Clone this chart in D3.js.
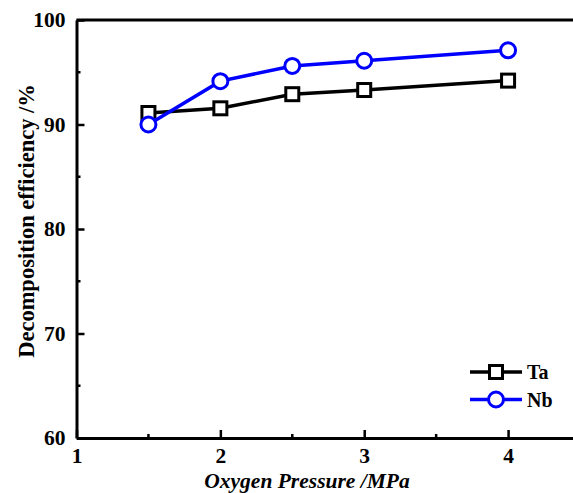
<!DOCTYPE html>
<html>
<head>
<meta charset="utf-8">
<style>
  body { margin: 0; background: #fff; }
</style>
</head>
<body>
<div id="graph"></div>
<script src="https://cdnjs.cloudflare.com/ajax/libs/d3/7.8.5/d3.min.js"></script>
<script>
// Data
var pressure = [1.5, 2, 2.5, 3, 4];
var ta = [91.1, 91.55, 92.9, 93.3, 94.2];
var nb = [90.0, 94.15, 95.6, 96.1, 97.1];
var xTicks = [1, 2, 3, 4];
var yTicks = [60, 70, 80, 90, 100];

var FONT = "'Liberation Serif', 'Times New Roman', serif";
var W = 573, H = 493;
var margin = { top: 20, right: -7, bottom: 55, left: 76.5 };
var width = W - margin.left - margin.right;
var height = H - margin.top - margin.bottom;

var svg = d3.select("#graph")
  .append("svg")
  .attr("width", W)
  .attr("height", H)
  .attr("font-family", FONT)
  .append("g")
  .attr("transform", "translate(" + margin.left + "," + margin.top + ")");

var xScale = d3.scaleLinear().domain([1, 4.5]).range([0, width]);
var yScale = d3.scaleLinear().domain([60, 100]).range([height, 0]);

// minor ticks
var xMinor = d3.range(1.5, 4.5, 1);
var yMinor = d3.range(65, 100, 10);

// x axis (bottom) - ticks pointing inward
var xAxis = svg.append("g")
  .attr("transform", "translate(0," + height + ")")
  .call(d3.axisBottom(xScale).tickValues(xTicks).tickFormat(d3.format("d"))
    .tickSizeInner(-8).tickSizeOuter(0).tickPadding(10));
xAxis.append("g").selectAll("line")
  .data(xMinor).enter().append("line")
  .attr("x1", function(d) { return xScale(d); })
  .attr("x2", function(d) { return xScale(d); })
  .attr("y1", 0).attr("y2", -4)
  .attr("stroke", "black").attr("stroke-width", 2.5);

// y axis (left)
var yAxis = svg.append("g")
  .call(d3.axisLeft(yScale).tickValues(yTicks)
    .tickSizeInner(-8).tickSizeOuter(0).tickPadding(11));
yAxis.append("g").selectAll("line")
  .data(yMinor).enter().append("line")
  .attr("y1", function(d) { return yScale(d); })
  .attr("y2", function(d) { return yScale(d); })
  .attr("x1", 0).attr("x2", 4)
  .attr("stroke", "black").attr("stroke-width", 2.5);

// top frame line
svg.append("line")
  .attr("x1", 0).attr("x2", width)
  .attr("y1", 0).attr("y2", 0)
  .attr("stroke", "black").attr("stroke-width", 3);

[xAxis, yAxis].forEach(function(a) {
  a.attr("font-family", FONT).attr("font-size", 21.5).attr("font-weight", "bold");
  a.select(".domain").attr("stroke-width", 3);
  a.selectAll(".tick line").attr("stroke-width", 2.5);
  a.selectAll(".tick text").attr("fill", "black");
});

var line = d3.line()
  .x(function(d, i) { return xScale(pressure[i]); })
  .y(function(d) { return yScale(d); });

// Ta series
svg.append("path")
  .datum(ta)
  .attr("fill", "none")
  .attr("stroke", "black")
  .attr("stroke-width", 3.5)
  .attr("d", line);
svg.selectAll(".ta-pt")
  .data(ta).enter().append("rect")
  .attr("class", "ta-pt")
  .attr("x", function(d, i) { return xScale(pressure[i]) - 6.5; })
  .attr("y", function(d) { return yScale(d) - 6.5; })
  .attr("width", 13).attr("height", 13)
  .attr("fill", "white").attr("stroke", "black").attr("stroke-width", 3);

// Nb series
svg.append("path")
  .datum(nb)
  .attr("fill", "none")
  .attr("stroke", "#0000ff")
  .attr("stroke-width", 3.5)
  .attr("d", line);
svg.selectAll(".nb-pt")
  .data(nb).enter().append("circle")
  .attr("class", "nb-pt")
  .attr("cx", function(d, i) { return xScale(pressure[i]); })
  .attr("cy", function(d) { return yScale(d); })
  .attr("r", 7.5)
  .attr("fill", "white").attr("stroke", "#0000ff").attr("stroke-width", 3);

// Legend
var legend = svg.append("g")
  .attr("transform", "translate(" + (470 - margin.left) + "," + (372 - margin.top) + ")")
  .attr("font-weight", "bold").attr("font-size", 20);
legend.append("line").attr("x1", 0).attr("x2", 52).attr("y1", 0).attr("y2", 0)
  .attr("stroke", "black").attr("stroke-width", 3.5);
legend.append("rect").attr("x", 26 - 6.5).attr("y", -6.5).attr("width", 13).attr("height", 13)
  .attr("fill", "white").attr("stroke", "black").attr("stroke-width", 3);
legend.append("text").attr("x", 57).attr("y", 7).text("Ta");
legend.append("line").attr("x1", 0).attr("x2", 52).attr("y1", 27.5).attr("y2", 27.5)
  .attr("stroke", "#0000ff").attr("stroke-width", 3.5);
legend.append("circle").attr("cx", 26).attr("cy", 27.5).attr("r", 7.5)
  .attr("fill", "white").attr("stroke", "#0000ff").attr("stroke-width", 3);
legend.append("text").attr("x", 57).attr("y", 34.5).text("Nb");

// Axis labels
svg.append("text")
  .attr("x", 307 - margin.left)
  .attr("y", 487.5 - margin.top)
  .attr("text-anchor", "middle")
  .attr("font-size", 21.5)
  .attr("font-weight", "bold")
  .attr("font-style", "italic")
  .text("Oxygen Pressure /MPa");

svg.append("text")
  .attr("transform", "rotate(-90)")
  .attr("x", -(221 - margin.top))
  .attr("y", 34 - margin.left)
  .attr("text-anchor", "middle")
  .attr("font-size", 22.5)
  .attr("font-weight", "bold")
  .text("Decomposition efficiency /%");
</script>
</body>
</html>
